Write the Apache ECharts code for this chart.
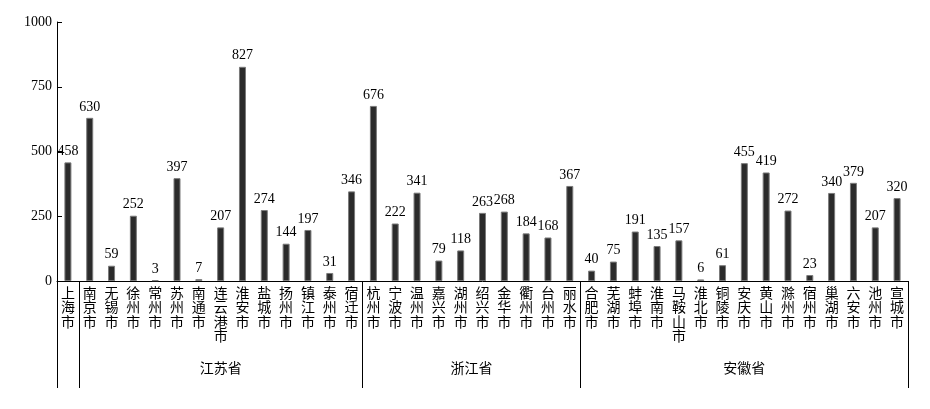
<!DOCTYPE html>
<html>
<head>
<meta charset="utf-8">
<script src="https://cdn.jsdelivr.net/npm/echarts@6/dist/echarts.min.js"></script>
<style>html,body{margin:0;padding:0;background:#fff}#c{width:930px;height:409px}</style>
</head>
<body>
<div id="c"></div>
<script>
const cities = ['上海市','南京市','无锡市','徐州市','常州市','苏州市','南通市','连云港市','淮安市','盐城市','扬州市','镇江市','泰州市','宿迁市',
'杭州市','宁波市','温州市','嘉兴市','湖州市','绍兴市','金华市','衢州市','台州市','丽水市',
'合肥市','芜湖市','蚌埠市','淮南市','马鞍山市','淮北市','铜陵市','安庆市','黄山市','滁州市','宿州市','巢湖市','六安市','池州市','宣城市'];
const values = [458,630,59,252,3,397,7,207,827,274,144,197,31,346,
676,222,341,79,118,263,268,184,168,367,
40,75,191,135,157,6,61,455,419,272,23,340,379,207,320];
const groupNames = ['', '江苏省', '浙江省', '安徽省'];
const groupSizes = [1, 13, 10, 15];
const yTicks = [0, 250, 500, 750, 1000];

const bounds = [0];
groupSizes.forEach(s => bounds.push(bounds[bounds.length - 1] + s));
const centers = [];
const centerName = {};
for (let i = 0; i < groupSizes.length; i++) {
  if (!groupNames[i]) continue;
  const c = (bounds[i] + bounds[i + 1]) / 2;
  centers.push(c);
  centerName[c] = groupNames[i];
}
const FONT = '"Liberation Serif", "Noto Sans CJK SC", serif';

const chart = echarts.init(document.getElementById('c'), null, {renderer: 'canvas'});
chart.setOption({
  animation: false,
  backgroundColor: '#fff',
  grid: {left: 57, right: 22, top: 22, bottom: 128, containLabel: false},
  xAxis: [{
    type: 'category',
    data: cities,
    axisLine: {show: true, lineStyle: {color: '#000', width: 1}},
    axisTick: {show: false},
    axisLabel: {
      interval: 0, margin: 6, color: '#000', fontSize: 14, lineHeight: 14.5,
      fontFamily: FONT,
      formatter: v => v.split('').join('\n')
    }
  }, {
    type: 'value',
    position: 'bottom',
    min: 0, max: bounds[bounds.length - 1],
    axisLine: {show: false},
    splitLine: {show: false},
    axisTick: {show: true, customValues: bounds, length: 107, lineStyle: {color: '#000', width: 1}},
    axisLabel: {
      customValues: centers, margin: 81, color: '#000', fontSize: 14,
      fontFamily: FONT,
      formatter: v => centerName[v] || ''
    }
  }],
  yAxis: {
    type: 'value',
    min: yTicks[0], max: yTicks[yTicks.length - 1], interval: yTicks[1] - yTicks[0],
    axisLine: {show: true, lineStyle: {color: '#000', width: 1}},
    axisTick: {show: true, inside: true, length: 5, lineStyle: {color: '#000'}},
    splitLine: {show: false},
    axisLabel: {margin: 5, color: '#000', fontSize: 14, fontFamily: FONT, formatter: v => String(v)}
  },
  series: [{
    type: 'bar',
    xAxisIndex: 0,
    data: values,
    barWidth: 7,
    itemStyle: {color: '#2b2b2b', borderColor: '#7a7a7a', borderWidth: 1},
    label: {show: true, position: 'top', distance: 4, color: '#000', fontSize: 14, fontFamily: FONT}
  }]
});
</script>
</body>
</html>
